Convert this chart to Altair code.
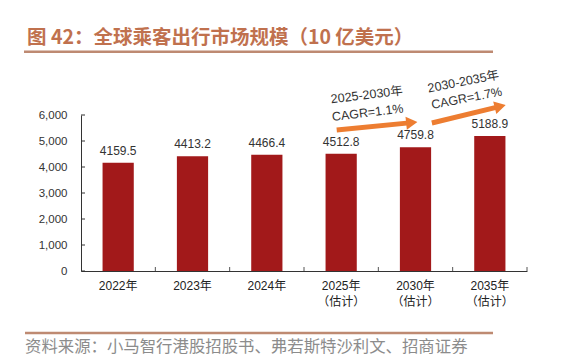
import altair as alt
import pandas as pd

# ---- data ----
categories = ["2022年", "2023年", "2024年", "2025年\n（估计）", "2030年\n（估计）", "2035年\n（估计）"]
values = [4159.5, 4413.2, 4466.4, 4512.8, 4759.8, 5188.9]
value_labels = ["4159.5", "4413.2", "4466.4", "4512.8", "4759.8", "5188.9"]
y_ticks = [0, 1000, 2000, 3000, 4000, 5000, 6000]
boundaries = [1, 2, 3, 4, 5, 6]

title_text = ["图 42：全球乘客出行市场规模（10 亿美元）"]
source_text = ["资料来源：小马智行港股招股书、弗若斯特沙利文、招商证券"]

# annotation arrows (x in category-index units, y in value units)
arrow_id = ["a1", "a1", "a2", "a2"]
arrow_x = [3.44, 4.45, 4.72, 5.64]
arrow_y = [5422, 5707, 5692, 6331]
head_x = [4.45, 5.64]
head_y = [5707, 6331]
head_angle = [354, 346]
note_text = ["2025-2030年", "CAGR=1.1%", "2030-2035年", "CAGR=1.7%"]
note_x = [3.844, 3.857, 5.143, 5.189]
note_y = [6771, 6089, 7283, 6644]
note_angle = [353, 353, 349, 349]

W, H = 446, 156
FONT = "Liberation Sans, Noto Sans CJK SC"
BAR = "#A2191A"
ORANGE = "#ED7D31"
LINE = "#BE8A72"

df = pd.DataFrame({"cat": categories, "val": values, "lab": value_labels})
ydf = pd.DataFrame({"v": y_ticks})
bdf = pd.DataFrame({"b": boundaries})
adf = pd.DataFrame({"id": arrow_id, "x": arrow_x, "y": arrow_y})
hdf = pd.DataFrame({"x": head_x, "y": head_y, "ang": head_angle})
ndf = pd.DataFrame({"t": note_text, "x": note_x, "y": note_y, "ang": note_angle})

yscale = alt.Scale(domain=[0, 6000], nice=False)
yaxis = alt.Axis(
    title=None,
    values=y_ticks,
    labelExpr="datum.value == 0 ? '0' : (datum.value / 1000) + ',000'",
    grid=False,
    ticks=False,
    labelPadding=14,
    labelFont=FONT,
    labelFontSize=11.5,
    labelColor="#333333",
    domainColor="#333333",
)

def yenc(field):
    return alt.Y(field, scale=yscale, axis=yaxis)

xband = alt.X(
    "cat:N",
    sort=categories,
    scale=alt.Scale(paddingInner=0.58, paddingOuter=0.29),
    axis=alt.Axis(
        title=None,
        labelAngle=0,
        ticks=False,
        labelPadding=9,
        labelFont=FONT,
        labelFontSize=12,
        labelColor="#222222",
        labelLineHeight=16,
        labelExpr="split(datum.label, '\\n')",
        domainColor="#333333",
        domainWidth=1,
        labelBaseline="top",
    ),
)

bars = alt.Chart(df).mark_bar(color=BAR).encode(x=xband, y=yenc("val:Q"))

labels = alt.Chart(df).mark_text(
    baseline="bottom", dy=-5, font=FONT, fontSize=12, color="#333333"
).encode(x=alt.X("cat:N", sort=categories), y=yenc("val:Q"), text="lab:N")

yticks = alt.Chart(ydf).mark_rule(color="#333333").encode(
    y=yenc("v:Q"), x=alt.value(0), x2=alt.value(4)
)

band_layer = alt.layer(bars, labels, yticks)

xq = alt.Scale(domain=[0, 6], nice=False)

xticks = alt.Chart(bdf).mark_rule(color="#555555").encode(
    x=alt.X("b:Q", scale=xq, axis=None), y=alt.value(H - 4), y2=alt.value(H)
)

arrows = alt.Chart(adf).mark_line(color=ORANGE, strokeWidth=5, clip=False).encode(
    x=alt.X("x:Q", scale=xq, axis=None),
    y=yenc("y:Q"),
    detail="id:N",
)

heads = alt.Chart(hdf).mark_point(
    shape="triangle-right", filled=True, color=ORANGE, size=170, opacity=1, clip=False
).encode(
    x=alt.X("x:Q", scale=xq, axis=None),
    y=yenc("y:Q"),
    angle=alt.Angle("ang:Q", scale=None),
)

notes = alt.Chart(ndf).mark_text(
    font=FONT, fontSize=12.5, color="#333333", clip=False
).encode(
    x=alt.X("x:Q", scale=xq, axis=None),
    y=yenc("y:Q"),
    text="t:N",
    angle=alt.Angle("ang:Q", scale=None),
)

title = alt.Chart(pd.DataFrame({"t": title_text})).mark_text(
    align="left", baseline="middle", font="Noto Sans CJK SC", fontSize=19.5,
    fontWeight="bold", color="#C0714E"
).encode(x=alt.value(-54), y=alt.value(-77), text="t:N")

top_line = alt.Chart(pd.DataFrame({"t": title_text})).mark_rule(
    color=LINE, strokeWidth=2.5
).encode(x=alt.value(-57), x2=alt.value(412), y=alt.value(-63.3))

bottom_line = alt.Chart(pd.DataFrame({"t": source_text})).mark_rule(
    color=LINE, strokeWidth=2.5
).encode(x=alt.value(-56), x2=alt.value(412), y=alt.value(218))

source = alt.Chart(pd.DataFrame({"t": source_text})).mark_text(
    align="left", baseline="middle", font="Noto Sans CJK SC", fontSize=16.4,
    color="#8C8C8C"
).encode(x=alt.value(-56), y=alt.value(231.5), text="t:N")

quant_layer = alt.layer(xticks, arrows, heads, notes, title, top_line, bottom_line, source)

chart = (
    alt.layer(band_layer, quant_layer)
    .resolve_scale(x="independent")
    .properties(
        width=W,
        height=H,
        autosize=alt.AutoSizeParams(type="none"),
        padding={"left": 73, "top": 107, "right": 30, "bottom": 86},
    )
    .configure_view(stroke=None)
    .configure_axis(labelFont=FONT)
)

chart.save("out.html", embed_options={"renderer": "svg", "actions": False})
